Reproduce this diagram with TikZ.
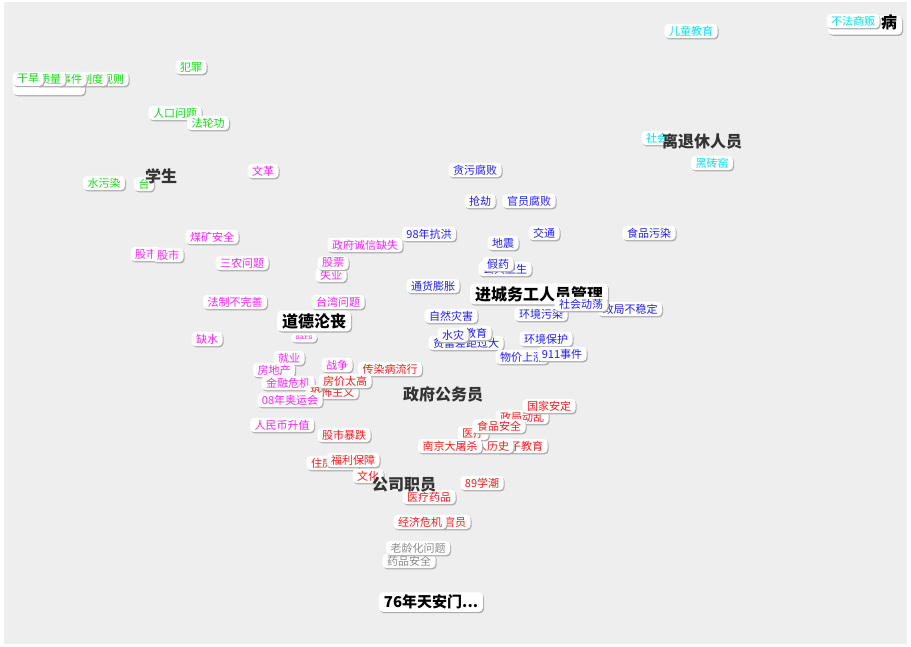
\documentclass[tikz,border=0pt]{standalone}
\usepackage{fontspec}
\setmainfont{Noto Sans CJK SC}
\usepackage{xcolor}
\usetikzlibrary{shadows}

\definecolor{bgGray}{HTML}{EEEEEE}
\definecolor{tagGreen}{HTML}{11E011}
\definecolor{tagCyan}{HTML}{00E5F0}
\definecolor{tagBlue}{HTML}{1E1EFF}
\definecolor{tagMagenta}{HTML}{FF22FF}
\definecolor{tagRed}{HTML}{FF1A1A}
\definecolor{tagGray}{HTML}{8A8A8A}

\tikzset{
  tag/.style={fill=white, rounded corners=4pt, inner xsep=4.5pt, inner ysep=2pt,
    font=\fontsize{11}{12}\selectfont,
    general shadow={fill=gray!65, shadow xshift=1pt, shadow yshift=-1.3pt}},
  blankbox/.style={tag, minimum height=16pt},
  bigword/.style={font=\fontsize{16}{17}\selectfont\bfseries, text=black!80, inner sep=1pt},
  bigtag/.style={tag, inner xsep=5pt, inner ysep=2.5pt, font=\fontsize{16}{17}\selectfont\bfseries, text=black}
}

\begin{document}
\begin{tikzpicture}[x=1pt, y=-1pt]
	\useasboundingbox (0,0) rectangle (911,646);
	\fill[white] (0,0) rectangle (911,646);
	\fill[bgGray] (4,2) rectangle (907,644);

	% boxes hidden under others
	\node[blankbox, minimum width=72pt] (rowback) at (49,87) {};
	\node[blankbox, minimum width=74pt, minimum height=19pt] (bingback) at (865,25) {};

	% green
	\foreach \n/\x/\y/\t in {guize/113/79/规则, zhidu/92/79/制度, shijianG/71/79/事件,
		zhiliang/50/79/质量, ganhan/28/79/干旱, fanzui/191/67/犯罪, renkou/175/113/人口问题,
		falungong/208/123/法轮功, shuiwuran/104/183/水污染} {
		\node[tag, text=tagGreen] (\n) at (\x,\y) {\t};
	};
	\node[tag, text=tagGreen] (taidu) at (144,184) {台\hspace{11pt}};

	% cyan
	\foreach \n/\x/\y/\t in {shangfan/853/21/不法商贩, ertong/691/31/儿童教育,
		shehui/657/138/社会, heizhuan/712/163/黑砖窑} {
		\node[tag, text=tagCyan] (\n) at (\x,\y) {\t};
	};

	% blue
	\foreach \n/\x/\y/\t in {tanwu/475/170/贪污腐败, qiangjie/480/201/抢劫,
		guanyuanfb/529/201/官员腐败, kanghong/429/234/98年抗洪, jiaotong/544/233/交通,
		dizhen/503/243/地震, shipinwr/649/233/食品污染, weisheng/505/269/公共卫生,
		jiayao/498/264/假药, tonghuo/433/286/通货膨胀, zhengju/630/309/政局不稳定,
		hjwuran/541/314/环境污染, zaihai/451/316/自然灾害, pinfu/466/343/贫富差距过大,
		jiaoyuB/476/333/教育, shuizai/453/335/水灾, hjbaohu/546/339/环境保护,
		wujia/522/357/物价上涨, jiuyiyi/562/354/911事件} {
		\node[tag, text=tagBlue] (\n) at (\x,\y) {\t};
	};
	\node[bigtag] (nongmingong) at (539,294) {进城务工人员管理};
	\node[tag, text=tagBlue] (dongdang) at (581,304) {社会动荡};

	% magenta
	\foreach \n/\x/\y/\t in {wenge/263/171/文革, meikuang/212/237/煤矿安全,
		gushiA/146/254/股市, gushiB/168/255/股市, sannong/242/263/三农问题,
		shiye/331/275/失业, gupiao/333/263/股票, chengxin/365/245/政府诚信缺失,
		fazhi/235/302/法制不完善, taiwan/338/302/台湾问题, queshui/207/339/缺水,
		jiuye/289/358/就业, fangdichan/274/370/房地产, jinrong/288/383/金融危机,
		zhanzheng/337/365/战争} {
		\node[tag, text=tagMagenta] (\n) at (\x,\y) {\t};
	};
	\node[bigtag] (daode) at (314,321) {道德沦丧};
	\node[tag, text=tagMagenta, font=\fontsize{8}{9}\ttfamily, inner ysep=2.5pt] (sars) at (304,338) {sars};

	% red
	\foreach \n/\x/\y/\t in {chuanran/390/369/传染病流行, kongbu/332/392/恐怖主义,
		fangjia/345/381/房价太高} {
		\node[tag, text=tagRed] (\n) at (\x,\y) {\t};
	};
	\foreach \n/\x/\y/\t in {aoyun/290/400/08年奥运会, shengzhi/282/425/人民币升值} {
		\node[tag, text=tagMagenta] (\n) at (\x,\y) {\t};
	};
	\foreach \n/\x/\y/\t in {baodie/344/435/股市暴跌, zhufang/333/463/住房问题,
		wenhua/368/476/文化, fuli/353/460/福利保障, dongluan/522/417/政局动乱,
		anding/549/406/国家安定, haizi/521/446/孩子教育, lishi/487/446/个人历史,
		yiliao/473/433/医疗, shipinaq/499/426/食品安全, nanjing/450/446/南京大屠杀,
		xuechao/482/483/89学潮, yaopin/429/497/医疗药品, guanyuan/455/522/官员,
		jingji/420/522/经济危机} {
		\node[tag, text=tagRed] (\n) at (\x,\y) {\t};
	};

	% gray
	\node[tag, text=tagGray] (yaopinaq) at (409,561) {药品安全};
	\node[tag, text=tagGray] (laoling) at (418,548) {老龄化问题};

	% groups
	\node[bigword] (xuesheng) at (161,176) {学生};
	\node[bigword] (tuixiu) at (702,141) {离退休人员};
	\node[bigword] (gongwuyuan) at (443,394) {政府公务员};
	\node[bigword] (zhiyuan) at (404,485) {公司职员};
	\node[bigword, text=black] (bing) at (889,22) {病};
	\node[bigtag, font=\fontsize{15}{16}\selectfont\bfseries] (tiananmen) at (431,602) {76年天安门...};
\end{tikzpicture}
\end{document}
